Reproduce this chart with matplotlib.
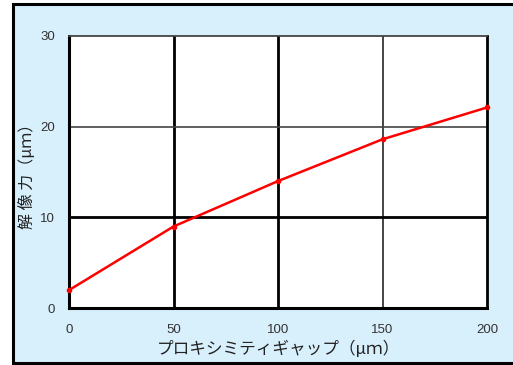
import matplotlib
matplotlib.use("Agg")
import matplotlib.pyplot as plt
from matplotlib.patches import Rectangle

plt.rcParams['font.family'] = ['Liberation Sans', 'Noto Sans CJK JP', 'DejaVu Sans']

# resolution vs proximity gap
gap_um = [0, 50, 100, 150, 200]
resolution_um = [2.0, 9.0, 14.0, 18.6, 22.1]

x_ticks = [0, 50, 100, 150, 200]
y_ticks = [0, 10, 20, 30]

W, H = 513, 365
fig = plt.figure(figsize=(W / 100, H / 100), dpi=100, facecolor='white')

# light blue panel with black frame, kept behind the axes
panel = Rectangle((13 / W, 1 - 363 / H), (W - 13) / W + 0.01, (363 - 4) / H,
                  transform=fig.transFigure, facecolor='#d8effc',
                  edgecolor='black', linewidth=2.2, zorder=-10)
fig.add_artist(panel)

ax = fig.add_axes([69 / W, 1 - 308.3 / H, (487 - 69) / W, (308.3 - 35.7) / H])
ax.set_facecolor('white')
ax.set_xlim(0, 200)
ax.set_ylim(0, 30)
ax.set_xticks(x_ticks)
ax.set_yticks(y_ticks)
ax.tick_params(length=0, labelsize=9.5, colors='#333333', pad=11)
ax.tick_params(axis='y', pad=10)

# grid: heavy lines at 50, 100 and 10, lighter at 150 and 20
for xv, lw, c in [(50, 2.0, 'black'), (100, 2.0, 'black'), (150, 1.4, '#444444')]:
    ax.axvline(xv, color=c, linewidth=lw, zorder=1)
for yv, lw, c in [(10, 2.0, 'black'), (20, 1.2, '#444444')]:
    ax.axhline(yv, color=c, linewidth=lw, zorder=1)

for side, lw, c in [('left', 2.2, 'black'), ('bottom', 2.2, 'black'),
                    ('right', 2.0, 'black'), ('top', 1.3, '#444444')]:
    ax.spines[side].set_linewidth(lw)
    ax.spines[side].set_color(c)

ax.plot(gap_um, resolution_um, color='#ff0000', linewidth=1.8,
        marker='o', markersize=3, zorder=3, clip_on=False)

ax.set_xlabel('プロキシミティギャップ（μｍ）', family=['Noto Sans CJK JP'],
              fontsize=12, color='#222222', labelpad=4)
ax.set_ylabel('解 像 力（μｍ）', family=['Noto Sans CJK JP'],
              fontsize=11.5, color='#222222')
ax.yaxis.set_label_coords(-0.08, 0.50)

fig.savefig('out.png', dpi=100)
